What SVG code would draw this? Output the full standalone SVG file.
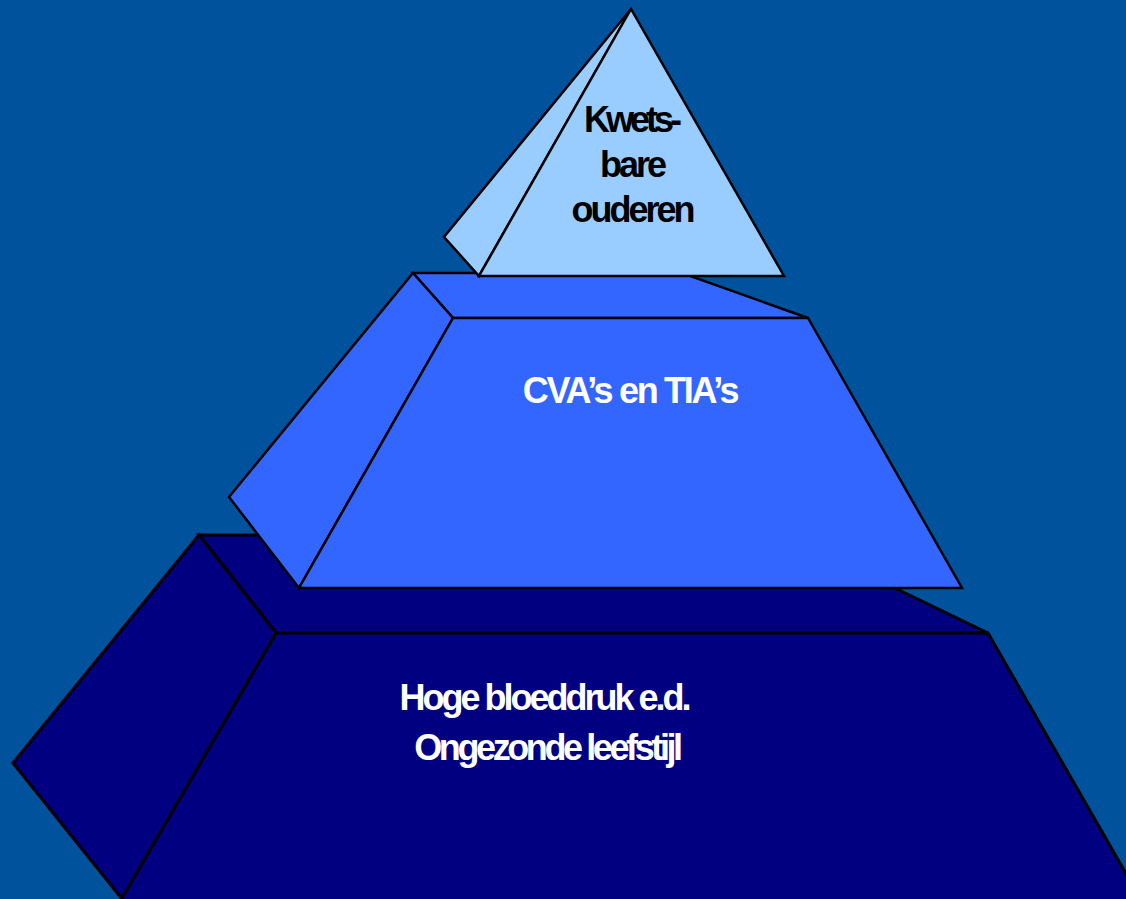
<svg xmlns="http://www.w3.org/2000/svg" width="1126" height="899" viewBox="0 0 1126 899">
<style>
.face{stroke:#000;stroke-linejoin:miter}
.t1{fill:#000080;stroke-width:3}
.t2{fill:#3366FF;stroke-width:2.5}
.t3{fill:#99CCFF;stroke-width:2.5}
.lbl{font-family:"Liberation Sans",Arial,sans-serif;font-weight:bold;font-size:36px;letter-spacing:-3px;text-anchor:middle}
</style>
<rect width="1126" height="899" fill="#01529C"/>
<g id="tier-bottom">
<polygon class="face t1" points="199,535 785,535 988,633 276,633"/>
<polygon class="face t1" points="199,535 276,633 122,899 13,763"/>
<polygon class="face t1" points="276,633 988,633 1144,905 118,905"/>
<text class="lbl" fill="#fff" x="544" y="710">Hoge bloeddruk e.d.</text>
<text class="lbl" fill="#fff" x="547" y="760" style="letter-spacing:-3.4px">Ongezonde leefstijl</text>
</g>
<g id="tier-middle">
<polygon class="face t2" points="413,273 682,273 808,318 453,318"/>
<polygon class="face t2" points="413,273 453,318 299,588 229,497"/>
<polygon class="face t2" points="453,318 808,318 962,588 299,588"/>
<text class="lbl" fill="#fff" x="630" y="403" style="letter-spacing:-2.3px">CVA’s en TIA’s</text>
</g>
<g id="tier-top">
<polygon class="face t3" points="631,9 444,237 479,276"/>
<polygon class="face t3" points="631,9 479,276 784,276"/>
<text class="lbl" fill="#000" x="631" y="132" style="letter-spacing:-4px">Kwets-</text>
<text class="lbl" fill="#000" x="632" y="177">bare</text>
<text class="lbl" fill="#000" x="632" y="222">ouderen</text>
</g>
</svg>
